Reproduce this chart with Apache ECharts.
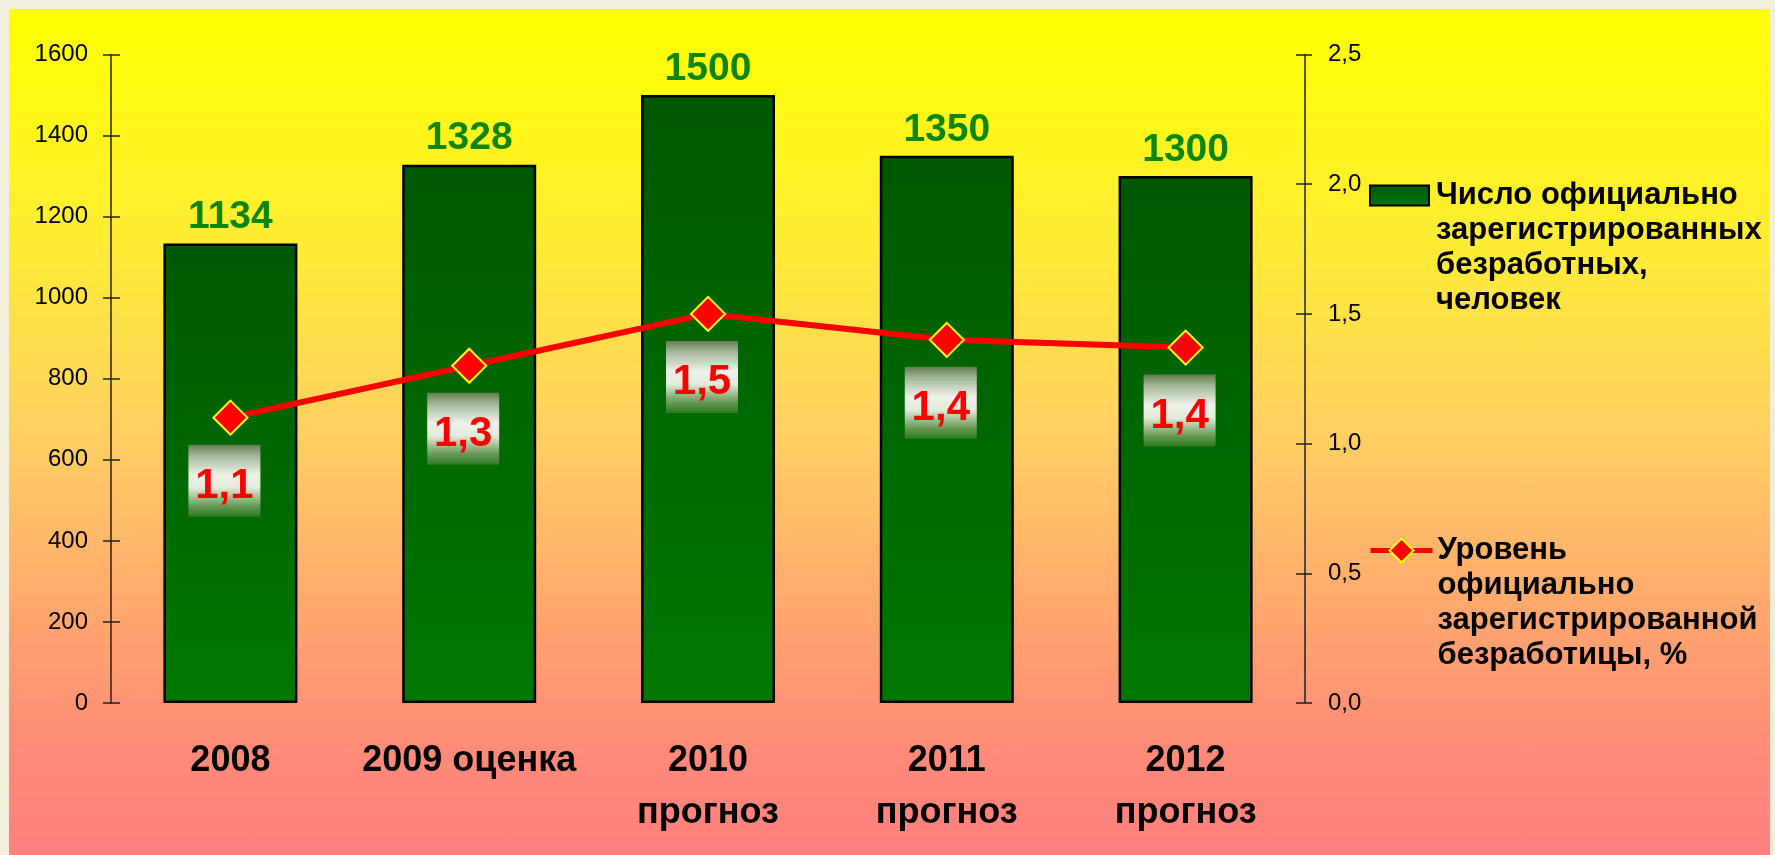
<!DOCTYPE html>
<html>
<head>
<meta charset="utf-8">
<script src="https://cdn.jsdelivr.net/npm/echarts@6/dist/echarts.min.js"></script>
<style>
html, body { margin: 0; padding: 0; background: #f1efdb; width: 1775px; height: 855px; overflow: hidden; }
#bg { position: absolute; left: 9px; top: 9px; width: 1761px; height: 846px;
  background: linear-gradient(to bottom, #ffff00 0%, #ffec35 28%, #ffd062 50%, #ffa070 75%, #ff8a78 88%, #ff8080 100%); }
#c { position: absolute; left: 0; top: 0; width: 1775px; height: 855px; }
</style>
</head>
<body>
<div id="bg"></div>
<div id="c"></div>
<script>
// ---- data ----
const categories = ['2008', '2009 оценка', '2010\nпрогноз', '2011\nпрогноз', '2012\nпрогноз'];
const unemployedCount = [1134, 1328, 1500, 1350, 1300];
const unemploymentRate = [1.1, 1.3, 1.5, 1.4, 1.37];
const leftAxisTicks = { min: 0, max: 1600, interval: 200 };
const rightAxisTicks = { min: 0, max: 2.5, interval: 0.5 };
const barName = 'Число официально зарегистрированных безработных, человек';
const lineName = 'Уровень официально зарегистрированной безработицы, %';
const barLegendLines = ['Число официально', 'зарегистрированных', 'безработных,', 'человек'];
const lineLegendLines = ['Уровень', 'официально', 'зарегистрированной', 'безработицы, %'];

// ---- chart ----
const LG = echarts.graphic.LinearGradient;
const FONT = "'Liberation Sans', Arial, sans-serif";
const comma = v => Number(v).toFixed(1).replace('.', ',');
// legend text: pad with empty lines above so the first text line sits level with the icon
const legendLabel = lines => new Array(lines.length - 1).fill('').concat(lines).join('\n');

const chart = echarts.init(document.getElementById('c'), null, { renderer: 'canvas' });

const axisLineStyle = { color: '#222', width: 1.5 };
const legendText = (pad) => ({
  fontSize: 31, fontWeight: 'bold', color: '#000', fontFamily: FONT,
  lineHeight: 35, padding: [0, 0, 0, pad]
});

const option = {
  animation: false,
  backgroundColor: 'transparent',
  textStyle: { fontFamily: FONT },
  grid: { left: 111, right: 470, top: 54.5, bottom: 152, containLabel: false },
  legend: [
    {
      data: [barName], orient: 'vertical', left: 1369, top: 73, padding: 0,
      itemWidth: 59, itemHeight: 20, icon: 'rect', selectedMode: false,
      formatter: () => legendLabel(barLegendLines),
      textStyle: legendText(2)
    },
    {
      data: [lineName], orient: 'vertical', left: 1368, top: 428, padding: 0,
      itemWidth: 62, itemHeight: 30, selectedMode: false,
      lineStyle: { width: 5 },
      formatter: () => legendLabel(lineLegendLines),
      textStyle: legendText(0)
    }
  ],
  xAxis: {
    type: 'category', data: categories,
    axisLine: { show: false }, axisTick: { show: false },
    axisLabel: { fontSize: 36, fontWeight: 'bold', color: '#000', lineHeight: 52, margin: 32, fontFamily: FONT, interval: 0 }
  },
  yAxis: [
    {
      type: 'value', position: 'left', ...leftAxisTicks,
      axisLine: { show: true, lineStyle: axisLineStyle },
      axisTick: { show: true, length: 8, lineStyle: axisLineStyle },
      axisLabel: { fontSize: 24, color: '#000', margin: 23, fontFamily: FONT, formatter: v => String(v) },
      splitLine: { show: false }
    },
    {
      type: 'value', position: 'right', ...rightAxisTicks,
      axisLine: { show: true, lineStyle: axisLineStyle },
      axisTick: { show: true, length: 7, lineStyle: axisLineStyle },
      axisLabel: { fontSize: 24, color: '#000', margin: 23, fontFamily: FONT, formatter: comma },
      splitLine: { show: false }
    },
    {
      type: 'value', position: 'left', ...leftAxisTicks,
      axisLine: { show: false },
      axisTick: { show: true, inside: true, length: 9, lineStyle: axisLineStyle },
      axisLabel: { show: false }, splitLine: { show: false }
    },
    {
      type: 'value', position: 'right', ...rightAxisTicks,
      axisLine: { show: false },
      axisTick: { show: true, inside: true, length: 9, lineStyle: axisLineStyle },
      axisLabel: { show: false }, splitLine: { show: false }
    }
  ],
  series: [
    {
      name: barName, type: 'bar', yAxisIndex: 0, data: unemployedCount,
      barWidth: 134,
      itemStyle: {
        color: new LG(0, 0, 0, 1, [{ offset: 0, color: '#005800' }, { offset: 1, color: '#007800' }]),
        borderColor: '#000', borderWidth: 2.5
      },
      label: {
        show: true, position: 'top', distance: 6,
        fontSize: 39, fontWeight: 'bold', color: '#0c870c', lineHeight: 40, fontFamily: FONT
      }
    },
    {
      name: lineName, type: 'line', yAxisIndex: 1, data: unemploymentRate, z: 5,
      symbol: 'diamond', symbolSize: 34,
      lineStyle: { color: '#ff0000', width: 6 },
      itemStyle: { color: '#ff0000', borderColor: '#ffff00', borderWidth: 2 },
      label: {
        show: true, position: 'bottom', distance: 9, offset: [-6, 0],
        formatter: p => comma(p.value),
        color: '#ff0000', fontSize: 42, fontWeight: 'bold', fontFamily: FONT,
        width: 72, height: 68, lineHeight: 76, padding: [4, 0, 0, 0], align: 'center',
        backgroundColor: new LG(0, 0, 0, 1, [
          { offset: 0, color: '#5f7f4f' },
          { offset: 0.15, color: '#a3b597' },
          { offset: 0.42, color: '#eef1e8' },
          { offset: 0.6, color: '#e3eadb' },
          { offset: 0.85, color: '#689a56' },
          { offset: 1, color: '#2a7a1e' }
        ])
      }
    }
  ]
};
chart.setOption(option);
</script>
</body>
</html>
